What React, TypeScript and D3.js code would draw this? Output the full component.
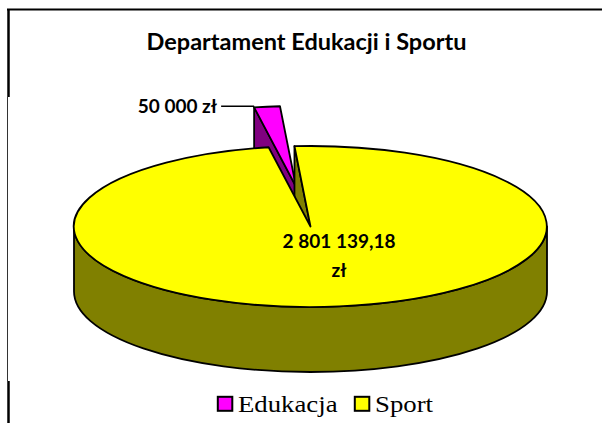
import React from "react";
import * as d3 from "d3";

const categories = ["Edukacja", "Sport"];
const values = [50000, 2801139.18];
const valueLabels = [["50 000 zł"], ["2 801 139,18", "zł"]];
const topColors = ["#FF00FF", "#FFFF00"];
const sideColors = ["#800080", "#808000"];
const explode = [0.5, 0];

const W = 602;
const H = 423;

// ellipse of the top face
const cx = 310.5;
const cy = 226.5;
const rx = 236.5;
const ry = 80.5;
const depth = 65;

const startDeg = -10.2;

const App = () => {
  const pie = d3
    .pie<number>()
    .sort(null)
    .startAngle((startDeg * Math.PI) / 180)
    .endAngle((startDeg * Math.PI) / 180 + 2 * Math.PI);
  const arcs = pie(values);

  const pt = (a: number, ox: number, oy: number, h = 0) => [
    cx + ox + rx * Math.sin(a),
    cy + oy - ry * Math.cos(a) + h,
  ];
  const f = (p: number[]) => `${p[0].toFixed(2)},${p[1].toFixed(2)}`;

  const slices = arcs.map((d, i) => {
    const mid = (d.startAngle + d.endAngle) / 2;
    const e = explode[i];
    const ox = rx * e * Math.sin(mid);
    const oy = -ry * e * Math.cos(mid);
    const a0 = d.startAngle;
    const a1 = d.endAngle;
    const c = [cx + ox, cy + oy];
    const ch = [cx + ox, cy + oy + depth];
    const large = a1 - a0 > Math.PI ? 1 : 0;
    const top = `M${f(c)} L${f(pt(a0, ox, oy))} A${rx},${ry} 0 ${large} 1 ${f(pt(a1, ox, oy))} Z`;

    const walls: string[] = [];
    // radial walls facing the viewer
    if (Math.sin(a0) < 0) {
      walls.push(`M${f(c)} L${f(pt(a0, ox, oy))} L${f(pt(a0, ox, oy, depth))} L${f(ch)} Z`);
    }
    if (Math.sin(a1) > 0) {
      walls.push(`M${f(c)} L${f(pt(a1, ox, oy))} L${f(pt(a1, ox, oy, depth))} L${f(ch)} Z`);
    }
    // front outer wall
    const s = Math.max(a0, Math.PI / 2);
    const en = Math.min(a1, (3 * Math.PI) / 2);
    if (s < en) {
      walls.push(
        `M${f(pt(s, ox, oy))} A${rx},${ry} 0 0 1 ${f(pt(en, ox, oy))} L${f(pt(en, ox, oy, depth))} A${rx},${ry} 0 0 0 ${f(pt(s, ox, oy, depth))} Z`
      );
    }
    return { i, top, walls, anchor: pt(a0, ox, oy), e };
  });

  // exploded (back) slices first
  const order = [...slices].sort((a, b) => b.e - a.e);

  const eduAnchor = slices[0].anchor;
  const legendX = [217, 354];

  return (
    <svg width={W} height={H} style={{ position: "absolute", left: 0, top: 0 }}>
      <rect width={W} height={H} fill="#fff" />
      {/* frame */}
      <line x1={7} x2={W} y1={9.5} y2={9.5} stroke="#000" strokeWidth={2} />
      <line x1={8.5} x2={8.5} y1={9} y2={97} stroke="#000" strokeWidth={2.5} />
      <line x1={7.5} x2={7.5} y1={97} y2={381} stroke="#333" strokeWidth={1} />
      <line x1={8.5} x2={8.5} y1={381} y2={H} stroke="#000" strokeWidth={2.5} />

      <text
        x={306.5}
        y={50}
        textAnchor="middle"
        fontFamily="Lato"
        fontWeight="bold"
        fontSize={23.5}
      >
        Departament Edukacji i Sportu
      </text>

      {order.map((s) => (
        <g key={categories[s.i]}>
          {s.walls.map((w, k) => (
            <path key={k} d={w} fill={sideColors[s.i]} stroke="#000" strokeWidth={1.8} strokeLinejoin="round" />
          ))}
          <path d={s.top} fill={topColors[s.i]} stroke="#000" strokeWidth={1.8} strokeLinejoin="round" />
        </g>
      ))}

      {/* labels */}
      <line
        x1={eduAnchor[0] - 33}
        x2={eduAnchor[0]}
        y1={eduAnchor[1] - 1}
        y2={eduAnchor[1] - 1}
        stroke="#000"
        strokeWidth={1.5}
      />
      <text
        x={eduAnchor[0] - 37}
        y={eduAnchor[1] + 6}
        textAnchor="end"
        fontFamily="Lato"
        fontWeight="bold"
        fontSize={19}
      >
        {valueLabels[0][0]}
      </text>
      {valueLabels[1].map((t, k) => (
        <text
          key={k}
          x={cx + 28.5}
          y={cy + 21.5 + k * 29}
          textAnchor="middle"
          fontFamily="Lato"
          fontWeight="bold"
          fontSize={19}
        >
          {t}
        </text>
      ))}

      {/* legend */}
      {categories.map((c, i) => (
        <g key={c} transform={`translate(${legendX[i]},412)`}>
          <rect x={0.8} y={-15.2} width={14.5} height={14} fill={topColors[i]} stroke="#000" strokeWidth={2} />
          <text
            transform="translate(21,0) scale(1.19,1)"
            fontFamily="Liberation Serif"
            fontSize={22.5}
            fill="#000"
          >
            {c}
          </text>
        </g>
      ))}
    </svg>
  );
};

export default App;
